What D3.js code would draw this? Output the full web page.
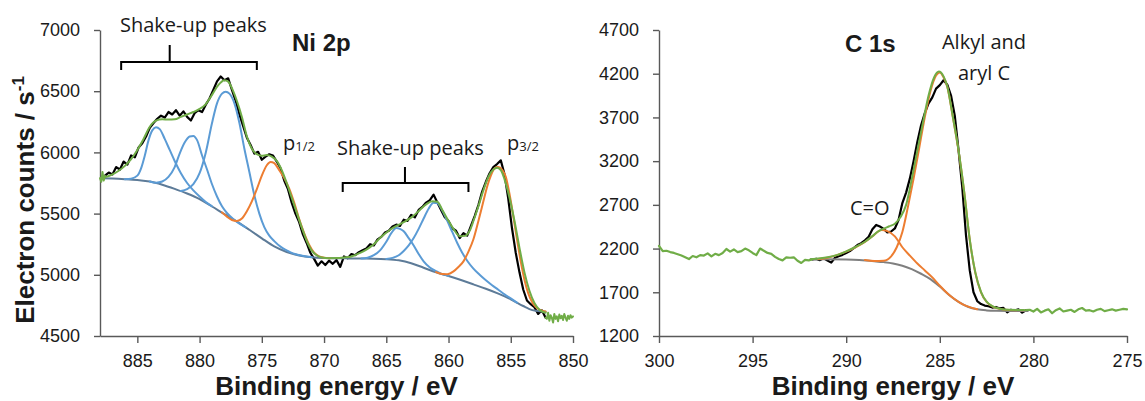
<!DOCTYPE html>
<html><head><meta charset="utf-8">
<script src="https://cdn.jsdelivr.net/npm/d3@7"></script>
<style>body{margin:0;background:#fff}svg{display:block}</style>
</head><body><svg id="c" width="1145" height="401"></svg>
<script>
// ---------- Ni 2p data ----------
const niTickX = [885, 880, 875, 870, 865, 860, 855, 850];
const niTickY = [4500, 5000, 5500, 6000, 6500, 7000];
const niBackground = [[887.9,5788],[887,5786],[886,5781],[885,5774],[884,5762],[883,5736],[882,5702],[881,5664],[880,5618],[879,5558],[878,5495],[877,5435],[876,5368],[875,5298],[874,5232],[873,5186],[872,5158],[871,5143],[870,5137],[869,5135],[868,5134],[867,5133],[866,5132],[865,5128],[864,5118],[863,5095],[862,5058],[861,5020],[860,4990],[859,4957],[858,4922],[857,4886],[856,4846],[855,4800],[854,4745],[853.5,4720],[853,4706],[852.5,4700],[852.2,4698]];
const niShake1 = [[886,5781],[885.5,5785],[885,5810],[884.7,5870],[884.4,5975],[884.1,6100],[883.8,6180],[883.5,6205],[883.2,6190],[882.8,6110],[882.4,6020],[882,5930],[881.5,5830],[881,5750],[880.5,5690],[880,5640],[879.5,5595],[879,5560]];
const niShake2 = [[884,5762],[883.5,5752],[883,5762],[882.5,5800],[882,5880],[881.6,5990],[881.2,6080],[880.8,6130],[880.5,6135],[880.2,6100],[879.8,5975],[879.4,5860],[879,5740],[878.6,5640],[878.2,5560],[877.8,5505],[877.3,5455],[876.8,5418],[876.3,5388]];
const niShake3 = [[881.5,5685],[881,5700],[880.5,5740],[880,5830],[879.5,6000],[879,6240],[878.6,6400],[878.2,6480],[877.9,6496],[877.6,6480],[877.2,6400],[876.8,6240],[876.4,6030],[876,5840],[875.6,5650],[875.2,5500],[874.8,5390],[874.4,5320],[874,5275],[873.5,5230],[873,5200],[872.5,5175],[872,5162],[871.5,5152],[871,5145]];
const niP12 = [[878.2,5510],[877.8,5475],[877.4,5448],[877,5440],[876.6,5460],[876.2,5520],[875.8,5600],[875.4,5700],[875,5810],[874.6,5895],[874.3,5922],[874,5912],[873.6,5855],[873.2,5790],[872.8,5705],[872.4,5590],[872,5455],[871.6,5340],[871.2,5245],[870.8,5180],[870.4,5150],[870,5140],[869.5,5136]];
const niShake4 = [[867,5133],[866.5,5140],[866,5160],[865.5,5200],[865,5270],[864.6,5340],[864.2,5382],[863.9,5375],[863.6,5355],[863.2,5300],[862.8,5240],[862.4,5170],[862,5110],[861.5,5060],[861,5030],[860.5,5005],[860,4992]];
const niShake5 = [[865,5130],[864.5,5138],[864,5160],[863.6,5195],[863.2,5240],[862.8,5300],[862.4,5375],[862,5460],[861.6,5540],[861.2,5588],[860.9,5585],[860.5,5525],[860.1,5440],[859.7,5350],[859.3,5260],[858.9,5180],[858.5,5115],[858,5050],[857.5,5000],[857,4955],[856.5,4915],[856,4878],[855.5,4840],[855,4808],[854.5,4772]];
const niP32 = [[861,5022],[860.5,5006],[860.1,5005],[859.6,5028],[859.2,5065],[858.8,5110],[858.4,5190],[858,5290],[857.6,5440],[857.2,5600],[856.9,5720],[856.6,5810],[856.3,5870],[856,5880],[855.7,5860],[855.4,5800],[855.1,5660],[854.8,5480],[854.5,5290],[854.2,5110],[853.9,4960],[853.6,4850],[853.3,4780],[853,4738],[852.6,4712],[852.2,4700]];
const niFit = [[887.9,5791],[887.5,5800],[887,5820],[886.5,5850],[886,5890],[885.5,5945],[885,6020],[884.5,6110],[884,6210],[883.5,6260],[883,6270],[882.5,6268],[882,6270],[881.5,6290],[881,6310],[880.5,6330],[880,6355],[879.5,6395],[879,6470],[878.5,6550],[878,6590],[877.7,6578],[877.3,6500],[877,6420],[876.6,6290],[876.2,6130],[875.8,6030],[875.4,5985],[875,5972],[874.6,5978],[874.2,5965],[873.8,5930],[873.4,5855],[873,5750],[872.6,5630],[872.2,5510],[871.8,5390],[871.4,5280],[871,5200],[870.6,5160],[870.2,5142],[869.6,5136],[869,5137],[868.4,5142],[867.8,5150],[867.2,5175],[866.6,5205],[866,5250],[865.4,5310],[864.8,5360],[864.3,5393],[863.6,5430],[862.9,5475],[862.3,5530],[861.8,5575],[861.3,5600],[860.9,5597],[860.5,5530],[860,5440],[859.6,5375],[859.1,5315],[858.7,5318],[858.3,5360],[858,5440],[857.6,5560],[857.2,5690],[856.8,5800],[856.4,5860],[856.1,5875],[855.8,5855],[855.5,5780],[855.1,5630],[854.7,5440],[854.3,5220],[853.9,5020],[853.5,4870],[853.1,4770],[852.7,4715],[852.2,4690]];
// measured counts, uniform energy grid
const niRawStart = 887.6, niRawStep = 0.3;
const niRaw = [5810,5835,5820,5880,5860,5925,5900,5975,5960,6040,6075,6130,6200,6240,6275,6300,6285,6330,6310,6345,6300,6335,6290,6260,6320,6345,6330,6390,6440,6510,6580,6620,6590,6605,6510,6420,6310,6215,6120,6060,5990,6005,5940,5965,5985,5975,5925,5870,5770,5700,5590,5500,5430,5330,5260,5180,5130,5075,5110,5080,5115,5090,5120,5065,5150,5135,5170,5160,5185,5200,5215,5250,5240,5290,5310,5345,5360,5395,5410,5400,5450,5440,5490,5470,5530,5555,5590,5610,5655,5590,5530,5470,5440,5380,5360,5300,5340,5320,5400,5480,5570,5680,5760,5830,5880,5905,5935,5820,5620,5380,5180,5020,4880,4790,4760,4735,4680,4710,4650];
const niEdgeLeftStart = 888.0, niEdgeLeftStep = 0.1;
const niEdgeLeft = [5790,5760,5840,5770,5810];
const niEdgeRightStart = 852.2, niEdgeRightStep = 0.1;
const niEdgeRight = [4650,4640,4690,4625,4670,4650,4610,4680,4640,4660,4620,4675,4645,4665,4630,4680,4650,4625,4665,4640,4670,4650,4660];

// ---------- C 1s data ----------
const cTickX = [300, 295, 290, 285, 280, 275];
const cTickY = [1200, 1700, 2200, 2700, 3200, 3700, 4200, 4700];
const cBackground = [[291.9,2077],[291,2077],[290,2074],[289.3,2068],[288.5,2055],[288,2045],[287.5,2030],[287,2003],[286.5,1965],[286,1912],[285.5,1850],[285,1765],[284.5,1670],[284,1590],[283.5,1535],[283,1505],[282.5,1493],[282,1489],[281,1487],[280.3,1486]];
const cCO = [[291.5,2080],[291,2095],[290.5,2125],[290,2165],[289.5,2215],[289,2275],[288.6,2340],[288.3,2395],[288.1,2412],[287.8,2400],[287.4,2340],[287,2215],[286.6,2120],[286.2,2030],[285.8,1950],[285.4,1870],[285,1775],[284.6,1690],[284.2,1620],[283.8,1565],[283.4,1530],[283,1506]];
const cAlkyl = [[289,2068],[288.5,2058],[288,2060],[287.6,2110],[287.3,2215],[287,2390],[286.7,2680],[286.4,3000],[286.1,3350],[285.8,3705],[285.5,4000],[285.2,4180],[285,4215],[284.8,4160],[284.6,4050],[284.3,3700],[284,3320],[283.7,2850],[283.4,2300],[283.1,1920],[282.8,1700],[282.5,1590],[282.2,1540],[281.8,1510],[281.3,1498],[280.5,1495]];
const cFit = [[291.9,2077],[291,2100],[290.5,2125],[290,2168],[289.5,2218],[289,2278],[288.6,2342],[288.3,2395],[288,2428],[287.7,2455],[287.4,2485],[287.1,2560],[286.8,2700],[286.5,2990],[286.2,3320],[285.9,3640],[285.6,3950],[285.3,4160],[285.05,4225],[284.8,4170],[284.6,4055],[284.3,3705],[284,3325],[283.7,2855],[283.4,2305],[283.1,1925],[282.8,1705],[282.5,1592],[282.2,1542],[281.8,1512],[281.3,1499],[280.5,1496]];
const cRawStart = 291.8, cRawStep = 0.2;
const cRaw = [2075,2082,2068,2088,2062,2040,2095,2112,2128,2150,2172,2205,2240,2262,2295,2335,2420,2470,2452,2425,2385,2395,2430,2530,2720,2840,3000,3200,3420,3610,3750,3860,3930,4030,4070,4125,4075,3950,3720,3330,2900,2350,1950,1700,1600,1565,1548,1540,1525,1532,1515,1522,1470,1500,1490,1506,1468,1495];
const cEdgeLeftStart = 300.0, cEdgeLeftStep = 0.2;
const cEdgeLeft = [2230,2170,2175,2160,2150,2135,2120,2100,2080,2115,2100,2125,2120,2145,2110,2140,2125,2150,2195,2165,2190,2160,2170,2200,2180,2150,2125,2200,2175,2150,2140,2105,2080,2065,2100,2095,2100,2060,2035,2070,2065,2078];
const cEdgeRightStart = 280.4, cEdgeRightStep = 0.2;
const cEdgeRight = [1495,1500,1480,1510,1470,1490,1505,1460,1495,1515,1480,1490,1500,1475,1505,1520,1490,1495,1480,1500,1510,1485,1495,1505,1490,1500,1510,1505];

// ---------- styles ----------
const C = {blue:'#5b9bd5', orange:'#ed7d31', green:'#70ad47', black:'#000000', niBg:'#5d7b98', cBg:'#7f7f7f', axis:'#595959', text:'#1a1a1a'};
const TITLE_FONT = '"Liberation Sans", Arial, sans-serif';
const TICK_FONT = '"Liberation Sans", Arial, sans-serif';
const NOTE_FONT = '"Open Sans", sans-serif';
const svg = d3.select('#c');
const grid = (start, step, vals) => vals.map((v, i) => [+(start - i * step).toFixed(3), v]);

function drawPanel(o) {
  const g = svg.append('g');
  const x = d3.scaleLinear().domain(o.xDomain).range(o.xRange);
  const y = d3.scaleLinear().domain(o.yDomain).range(o.yRange);
  const ax = g.append('g').attr('transform', `translate(0,${o.yRange[0]})`)
    .call(d3.axisBottom(x).tickValues(o.xTicks).tickSize(7).tickPadding(11).tickSizeOuter(0).tickFormat(d3.format('d')));
  const ay = g.append('g').attr('transform', `translate(${o.xRange[0]},0)`)
    .call(d3.axisLeft(y).tickValues(o.yTicks).tickSize(6).tickPadding(14).tickSizeOuter(0).tickFormat(d3.format('d')));
  [ax, ay].forEach(a => {
    a.attr('font-family', null).attr('font-size', null);
    a.select('.domain').attr('stroke', C.axis).attr('stroke-width', 1.4);
    a.selectAll('.tick line').attr('stroke', C.axis).attr('stroke-width', 1.4);
    a.selectAll('text').style('font-size', '18px').style('font-family', TICK_FONT).attr('fill', C.text);
  });
  const lineGen = curve => d3.line().x(d => x(d[0])).y(d => y(d[1])).curve(curve);
  o.layers.forEach(L => {
    g.append('path').datum(L.data)
      .attr('d', lineGen(L.curve || d3.curveMonotoneX))
      .attr('fill', 'none').attr('stroke', L.color).attr('stroke-width', L.width || 2)
      .attr('stroke-linejoin', 'round').attr('stroke-linecap', 'round');
  });
  g.append('text').attr('x', (o.xRange[0] + o.xRange[1]) / 2).attr('y', 395)
    .attr('text-anchor', 'middle').style('font-size', '26px').style('font-weight', 'bold')
    .style('font-family', TITLE_FONT).attr('fill', C.text)
    .text('Binding energy / eV');
  return {x, y, g};
}

const lin = d3.curveLinear;
const ni = drawPanel({
  xDomain: [888, 850], xRange: [100, 573], yDomain: [4500, 7000], yRange: [336, 30],
  xTicks: niTickX, yTicks: niTickY,
  layers: [
    {data: grid(niRawStart, niRawStep, niRaw), color: C.black, width: 2.2, curve: lin},
    {data: niBackground, color: C.niBg, width: 2},
    {data: niShake1, color: C.blue}, {data: niShake2, color: C.blue}, {data: niShake3, color: C.blue},
    {data: niShake4, color: C.blue}, {data: niShake5, color: C.blue},
    {data: niP12, color: C.orange}, {data: niP32, color: C.orange},
    {data: niFit, color: C.green},
    {data: grid(niEdgeLeftStart, niEdgeLeftStep, niEdgeLeft), color: C.green, width: 2, curve: lin},
    {data: grid(niEdgeRightStart, niEdgeRightStep, niEdgeRight), color: C.green, width: 2, curve: lin}
  ]
});

const cs = drawPanel({
  xDomain: [300, 275], xRange: [659, 1127], yDomain: [1200, 4700], yRange: [336, 30],
  xTicks: cTickX, yTicks: cTickY,
  layers: [
    {data: grid(cRawStart, cRawStep, cRaw), color: C.black, width: 2.2, curve: lin},
    {data: cBackground, color: C.cBg, width: 2},
    {data: cCO, color: C.orange}, {data: cAlkyl, color: C.orange},
    {data: cFit, color: C.green},
    {data: grid(cEdgeLeftStart, cEdgeLeftStep, cEdgeLeft), color: C.green, width: 2.2, curve: lin},
    {data: grid(cEdgeRightStart, cEdgeRightStep, cEdgeRight), color: C.green, width: 2.2, curve: lin}
  ]
});

// ---------- Y axis title ----------
const yt = svg.append('text').attr('transform', 'translate(34,200) rotate(-90)')
  .attr('text-anchor', 'middle').style('font-size', '26px').style('font-weight', 'bold')
  .style('font-family', TITLE_FONT).attr('fill', C.text);
yt.append('tspan').text('Electron counts / s');
yt.append('tspan').attr('dy', -10).style('font-size', '17px').text('-1');

// ---------- annotations ----------
function label(x, y, txt, size, bold, anchor, family) {
  return svg.append('text').attr('x', x).attr('y', y).style('font-size', size + 'px')
    .style('font-weight', bold ? 'bold' : 'normal').attr('fill', C.text)
    .style('font-family', family || NOTE_FONT)
    .attr('text-anchor', anchor || 'start').text(txt);
}
label(292, 51, 'Ni 2p', 24, true, 'start', TITLE_FONT);
label(845, 52, 'C 1s', 24, true, 'start', TITLE_FONT);
label(120, 32, 'Shake-up peaks', 20, false);
label(337, 155, 'Shake-up peaks', 20, false);
label(984, 49, 'Alkyl and', 20, false, 'middle');
label(984, 80, 'aryl C', 20, false, 'middle');
label(850, 215, 'C=O', 20, false);

function subLabel(x, y, main, sub) {
  const t = svg.append('text').attr('x', x).attr('y', y).style('font-size', '20px')
    .style('font-family', NOTE_FONT).attr('fill', C.text);
  t.append('tspan').text(main);
  t.append('tspan').style('font-size', '13px').attr('dy', 1).text(sub);
}
subLabel(ni.x(873.3), 150, 'p', '1/2');
subLabel(ni.x(855.3), 150, 'p', '3/2');

// brackets (positions in data energy)
function bracket(e1, e2, em, yLine, yEnd, yTop) {
  const x1 = ni.x(e1), x2 = ni.x(e2), xm = ni.x(em);
  svg.append('path')
    .attr('d', `M${x1},${yEnd}V${yLine}H${x2}V${yEnd}M${xm},${yLine}V${yTop}`)
    .attr('fill', 'none').attr('stroke', '#000').attr('stroke-width', 2);
}
bracket(886.3, 875.4, 882.4, 62, 70, 45);
bracket(868.5, 858.4, 863.5, 183, 192, 167);
</script></body></html>
